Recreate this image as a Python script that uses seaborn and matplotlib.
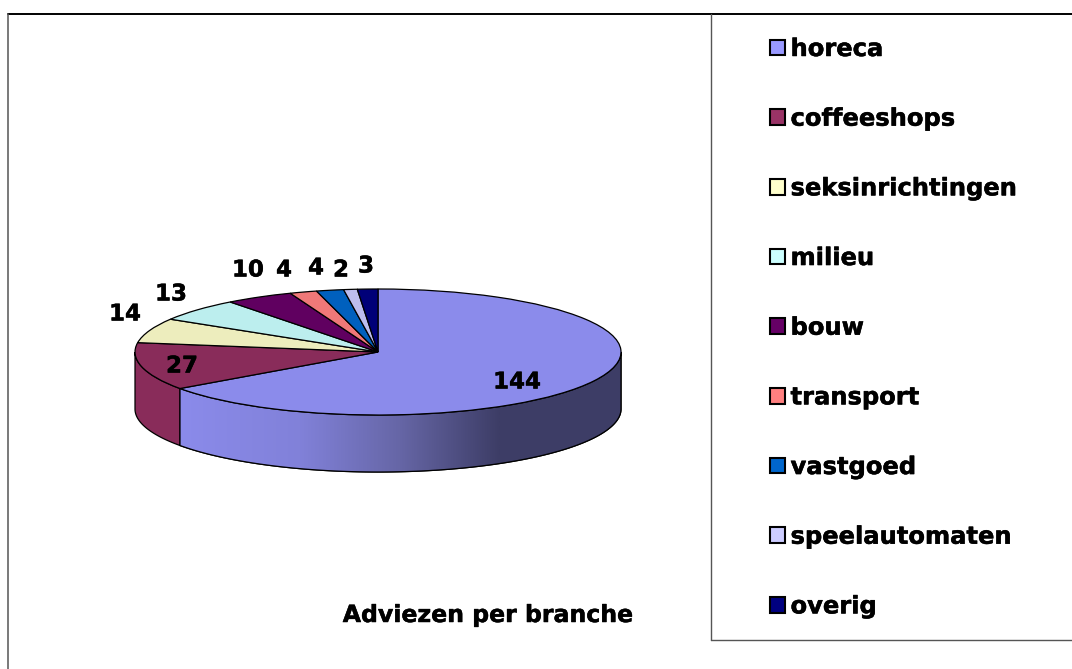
"""Adviezen per branche: 3D-look pie chart"""
import numpy as np
import matplotlib
matplotlib.use('Agg')
import matplotlib.pyplot as plt
import matplotlib.patheffects as pe
from matplotlib.colors import LinearSegmentedColormap
from matplotlib.lines import Line2D
from matplotlib.patches import Patch, Polygon
import seaborn as sns

sns.set_theme(style="white")
plt.rcParams['font.family'] = ['DejaVu Sans']
plt.rcParams['font.weight'] = 'bold'

branches = ['horeca', 'coffeeshops', 'seksinrichtingen', 'milieu', 'bouw',
            'transport', 'vastgoed', 'speelautomaten', 'overig']
adviezen = [144, 27, 14, 13, 10, 4, 4, 2, 3]
legend_colors = ['#9999FF', '#993366', '#FFFFCC', '#CCFFFF', '#660066',
                 '#FF8080', '#0066CC', '#CCCCFF', '#000080']
top_colors = ['#8B8BEB', '#892C5A', '#EDEDBD', '#BCEEEE', '#600060',
              '#F07878', '#0060BE', '#BDBDEE', '#000078']
label_pos = [(517, 382), (182, 366), (125, 314), (171, 294), (248, 270),
             (284, 270), (316, 268), (341, 270), (366, 266)]

W, H = 1072, 669
CX, CY, RX, RY, DEPTH = 378, 352, 243, 63, 57
heavy = [pe.withStroke(linewidth=0.35, foreground='black')]


def fx(x):
    return x / W


def fy(y):
    return 1 - y / H


fig = plt.figure(figsize=(W / 100, H / 100), dpi=100, facecolor='white')
ax = fig.add_axes([0, 0, 1, 1])

wedges, _ = ax.pie(adviezen, colors=sns.color_palette(top_colors), startangle=90,
                   counterclock=False, radius=1,
                   wedgeprops=dict(edgecolor='black', linewidth=0.9, zorder=3))
ax.set_aspect('auto')
ax.axis('off')

# side wall, only the front half of the pie shows it
d = DEPTH / RY
gradient = LinearSegmentedColormap.from_list('wall', [
    (0.0, '#8B8BEB'), (0.38, '#8181D9'), (0.69, '#6666A6'), (1.0, '#3D3D66')])
for wedge, color in zip(wedges, top_colors):
    lo, hi = max(wedge.theta1, -180), min(wedge.theta2, 0)
    if hi <= lo:
        continue
    t = np.radians(np.linspace(lo, hi, 200))
    xs, ys = np.cos(t), np.sin(t)
    pts = np.r_[np.c_[xs, ys], np.c_[xs[::-1], ys[::-1] - d]]
    wall = Polygon(pts, closed=True, facecolor=color, edgecolor='black',
                   linewidth=0.9, zorder=2)
    ax.add_patch(wall)
    if color == top_colors[0]:
        # horeca side fades to dark towards the right
        img = ax.imshow(np.linspace(0, 1, 256).reshape(1, -1), cmap=gradient,
                        aspect='auto', zorder=2.1,
                        extent=((178 - CX) / RX, (500 - CX) / RX, -3, 1))
        img.set_clip_path(wall)
        dark = ax.fill_between([(500 - CX) / RX, 1.01], -3, 1, color='#3D3D66', lw=0, zorder=2.1)
        dark.set_clip_path(wall)
        outline = Polygon(pts, closed=True, fill=False, edgecolor='black',
                          linewidth=0.9, zorder=2.2)
        ax.add_patch(outline)
ax.set_xlim(-CX / RX, (W - CX) / RX)
ax.set_ylim((CY - H) / RY, CY / RY)

for val, (x, y) in zip(adviezen, label_pos):
    fig.text(fx(x), fy(y), str(val), ha='center', va='center', fontsize=16.5,
             fontweight='bold', color='black', zorder=5, path_effects=heavy)

fig.text(fx(488), fy(615), 'Adviezen per branche', ha='center', va='center',
         fontsize=17, fontweight='bold', color='black', path_effects=heavy)

# chart frame and legend box
for xs, ys, c, lw in [((8, W), (13.5, 13.5), 'black', 1.4), ((8, 8), (14, H), '#555555', 1.1),
                      ((711, 711), (14, 640), '#555555', 1.0), ((711, W), (640, 640), '#555555', 1.0)]:
    fig.add_artist(Line2D([fx(v) for v in xs], [fy(v) for v in ys], color=c, lw=lw))

handles = [Patch(facecolor=c, edgecolor='black', linewidth=1.5) for c in legend_colors]
leg = fig.legend(handles, branches, loc='upper left', bbox_to_anchor=(fx(770), fy(37)),
                 frameon=False, fontsize=17.4, borderpad=0, borderaxespad=0,
                 handlelength=0.62, handleheight=0.62, handletextpad=0.23, labelspacing=1.89)
for txt in leg.get_texts():
    txt.set_color('black')
    txt.set_path_effects(heavy)

fig.savefig('out.png', dpi=100, facecolor='white')
